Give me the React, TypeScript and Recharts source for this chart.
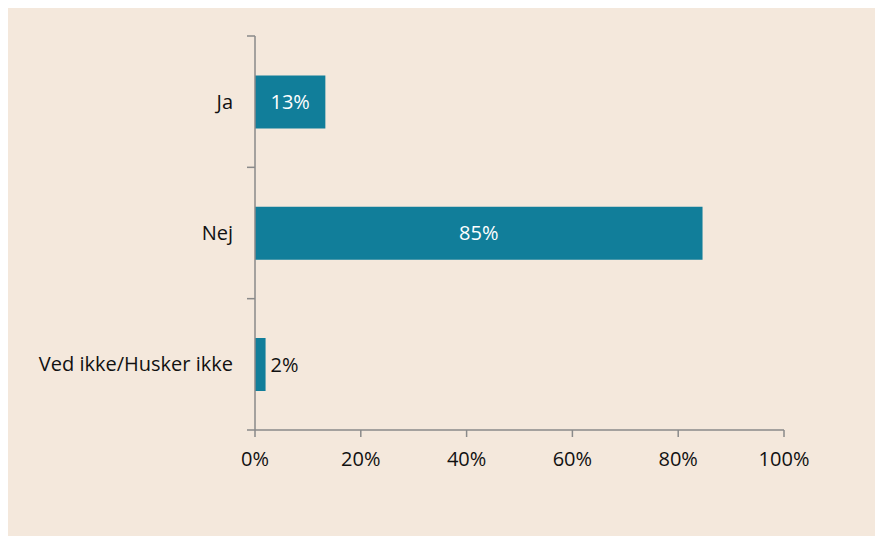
import { BarChart, Bar, XAxis, YAxis, LabelList } from "recharts";

const categories = ["Ja", "Nej", "Ved ikke/Husker ikke"];
const shares = [13.3, 84.6, 2.0];
const xTicks = [0, 20, 40, 60, 80, 100];

const data = categories.map((name, i) => ({ name, value: shares[i] }));

const FONT = "'Open Sans', 'Noto Sans', sans-serif";
const AXIS = "#8a8a8a";
const BAR = "#117e9a";
const SIZE = 20;

// y labels plus tick marks at the band edges (like the original)
const CategoryTick = (props: any) => {
  const { x, y, payload, index } = props;
  const half = payload.offset || 0;
  const lineX = x + 22;
  return (
    <g>
      {index === 0 && (
        <line x1={lineX - 8} x2={lineX} y1={y - half} y2={y - half} stroke={AXIS} strokeWidth={1.5} />
      )}
      <line x1={lineX - 8} x2={lineX} y1={y + half} y2={y + half} stroke={AXIS} strokeWidth={1.5} />
      <text x={x} y={y} dy="0.355em" textAnchor="end" fill="#111" fontSize={SIZE} fontFamily={FONT}>
        {payload.value}
      </text>
    </g>
  );
};

const BarValue = (props: any) => {
  const { x, y, width, height, value } = props;
  const label = `${Math.round(value)}%`;
  const inside = width > 40;
  return (
    <text
      x={inside ? x + width / 2 : x + width + 5}
      y={y + height / 2}
      dy="0.355em"
      textAnchor={inside ? "middle" : "start"}
      fill={inside ? "#ffffff" : "#111"}
      fontSize={SIZE}
      fontFamily={FONT}
    >
      {label}
    </text>
  );
};

export default function App() {
  return (
    <div style={{ width: 875, height: 528, background: "#f4e8dc" }}>
      <BarChart
        width={875}
        height={528}
        data={data}
        layout="vertical"
        barCategoryGap="30%"
        margin={{ top: 28, right: 99, bottom: 75, left: 0 }}
      >
        <XAxis
          type="number"
          domain={[0, 100]}
          ticks={xTicks}
          tickFormatter={(v) => `${v}%`}
          tickSize={7}
          tickMargin={15}
          height={31}
          axisLine={{ stroke: AXIS, strokeWidth: 1.5 }}
          tickLine={{ stroke: AXIS, strokeWidth: 1.5 }}
          tick={{ fill: "#111", fontSize: SIZE, fontFamily: FONT }}
          interval={0}
        />
        <YAxis
          type="category"
          dataKey="name"
          width={247}
          tickSize={8}
          tickMargin={14}
          tickLine={false}
          axisLine={{ stroke: AXIS, strokeWidth: 1.5 }}
          tick={<CategoryTick />}
          interval={0}
        />
        <Bar dataKey="value" fill={BAR} isAnimationActive={false}>
          <LabelList dataKey="value" content={<BarValue />} />
        </Bar>
      </BarChart>
    </div>
  );
}
